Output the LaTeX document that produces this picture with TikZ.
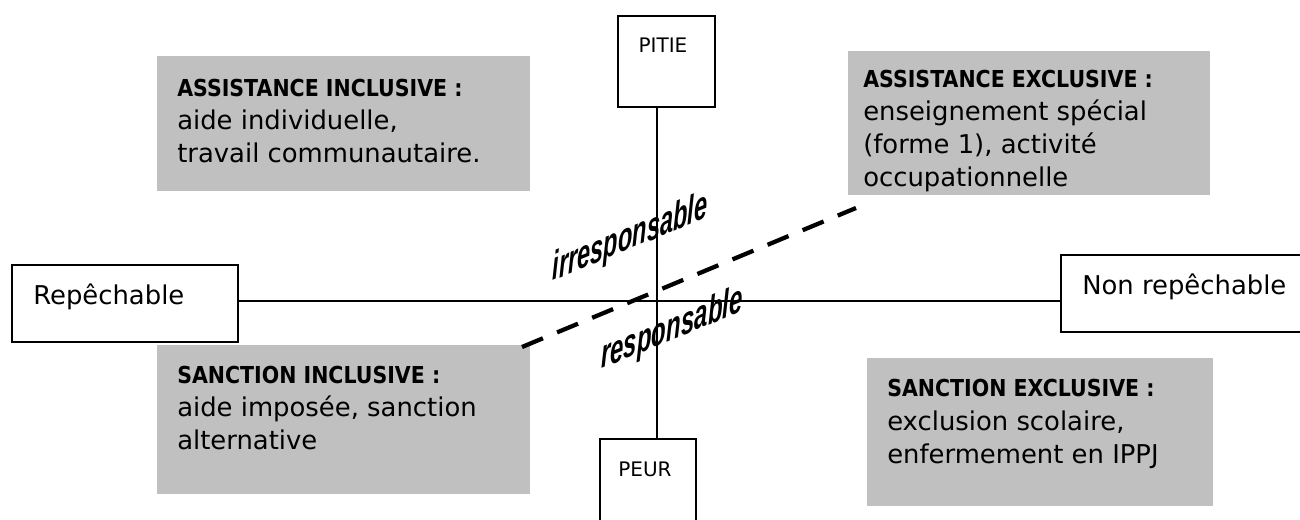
\documentclass[tikz,border=0pt]{standalone}
\usepackage{graphicx}
\usepackage{fontspec}
\setmainfont{DejaVu Sans}
\newfontfamily\hdrfont[FakeStretch=0.88]{DejaVu Sans}
\newfontfamily\rotfont{Liberation Sans}
\usetikzlibrary{fit}
\definecolor{boxgrey}{RGB}{192,192,192}
\newcommand{\hdr}{\hdrfont\bfseries\fontsize{17.5pt}{24.75pt}\selectfont}
\begin{document}
\begin{tikzpicture}[x=0.75pt,y=-0.75pt,
  greybox/.style={fill=boxgrey, draw=none, inner sep=0pt},
  whitebox/.style={draw=black, line width=1.5pt, fill=white, inner sep=0pt},
  axisline/.style={line width=1.5pt},
  dashline/.style={line width=3.2pt, dash pattern=on 17pt off 11.5pt},
  txt/.style={font=\fontsize{19.4pt}{24.75pt}\selectfont, anchor=base west, inner sep=0pt},
  smalltxt/.style={font=\fontsize{15pt}{18pt}\selectfont, anchor=base, inner sep=0pt},
  rottxt/.style={font=\rotfont\bfseries\itshape\fontsize{30pt}{34pt}\selectfont, anchor=base, inner sep=0pt, yslant=0.41}]
\useasboundingbox (0,0) rectangle (1300,520);
\clip (0,0) rectangle (1300,520);

% grey quadrant boxes
\node[greybox, fit={(157,56) (530,191)}] (tl) {};
\node[greybox, fit={(848,51) (1210,195)}] (tr) {};
\node[greybox, fit={(157,345) (530,494)}] (bl) {};
\node[greybox, fit={(867,358) (1213,506)}] (br) {};

\node[txt] (tltext) at (177,97) {\vtop{\hbox{\hdr ASSISTANCE INCLUSIVE :}\hbox{aide individuelle,}\hbox{travail communautaire.}}};
\node[txt] (trtext) at (863,88) {\vtop{\hbox{\hdr ASSISTANCE EXCLUSIVE :}\hbox{enseignement spécial}\hbox{(forme 1), activité}\hbox{occupationnelle}}};
\node[txt] (bltext) at (177,383) {\vtop{\hbox{\hdr SANCTION INCLUSIVE :}\hbox{aide imposée, sanction}\hbox{alternative}}};
\node[txt] (brtext) at (887,397) {\vtop{\hbox{\hdr SANCTION EXCLUSIVE :}\hbox{exclusion scolaire,}\hbox{enfermement en IPPJ}}};

% white end boxes
\node[whitebox, fit={(618,16) (715,107)}] (pitie) {};
\node[smalltxt] (pitielbl) at (663,53) {PITIE};
\node[whitebox, fit={(600,439) (696,545)}] (peur) {};
\node[smalltxt] (peurlbl) at (645,476) {PEUR};
\node[whitebox, fit={(12,265) (238,342)}] (rep) {};
\node[txt] (replbl) at (33,305) {Repêchable};
\node[whitebox, fit={(1061,255) (1330,332)}] (nonrep) {};
\node[txt] (nonreplbl) at (1082,295) {Non repêchable};

% axes
\coordinate (vx) at (657,0);
\coordinate (hy) at (0,301);
\draw[axisline] (pitie.south -| vx) -- (peur.north -| vx);
\draw[axisline] (rep.east |- hy) -- (nonrep.west |- hy);

% dashed separator
\coordinate (d1) at (522,347);
\coordinate (d2) at (856,208);
\draw[dashline] (d1) -- (d2);

% slanted labels
\node[rottxt] (irr) at (630,249) {\scalebox{0.59}[1]{irresponsable}};
\node[rottxt] (resp) at (672,340) {\scalebox{0.6}[1]{responsable}};
\end{tikzpicture}
\end{document}
